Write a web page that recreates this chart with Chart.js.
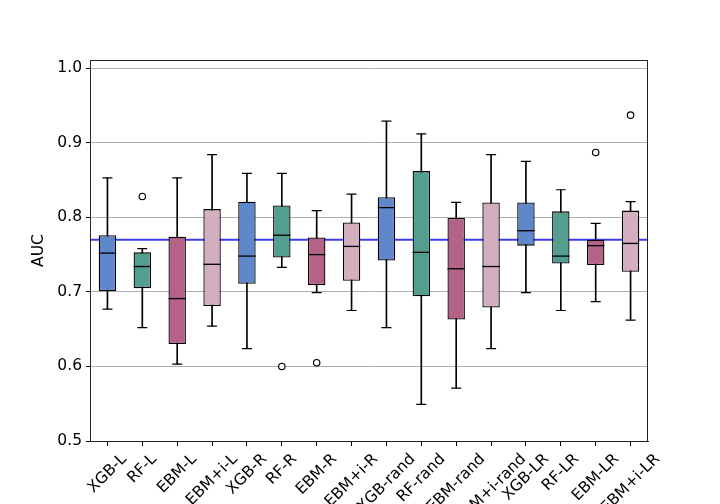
<!DOCTYPE html>
<html>
<head>
<meta charset="utf-8">
<script src="https://cdn.jsdelivr.net/npm/chart.js@4.4.1/dist/chart.umd.min.js"></script>
<style>
  html, body { margin: 0; padding: 0; background: #fff; }
  #wrap { width: 720px; height: 504px; }
</style>
</head>
<body>
<div id="wrap"><canvas id="aucChart" width="720" height="504"></canvas></div>
<script>
// model names on the x axis
const models = ['XGB-L', 'RF-L', 'EBM-L', 'EBM+i-L', 'XGB-R', 'RF-R', 'EBM-R', 'EBM+i-R',
    'XGB-rand', 'RF-rand', 'EBM-rand', 'EBM+i-rand', 'XGB-LR', 'RF-LR', 'EBM-LR', 'EBM+i-LR'];

// box plot stats
const whiskerLow  = [0.677, 0.652, 0.603, 0.654, 0.624, 0.733, 0.699, 0.675, 0.652, 0.549, 0.571, 0.624, 0.699, 0.675, 0.687, 0.662];
const q1          = [0.701, 0.705, 0.630, 0.681, 0.711, 0.746, 0.709, 0.715, 0.742, 0.694, 0.663, 0.679, 0.762, 0.738, 0.736, 0.727];
const medians     = [0.752, 0.734, 0.691, 0.737, 0.748, 0.776, 0.750, 0.761, 0.813, 0.753, 0.731, 0.734, 0.782, 0.748, 0.762, 0.765];
const q3          = [0.776, 0.753, 0.774, 0.811, 0.821, 0.816, 0.773, 0.793, 0.827, 0.862, 0.799, 0.820, 0.820, 0.808, 0.770, 0.809];
const whiskerHigh = [0.853, 0.758, 0.853, 0.884, 0.859, 0.859, 0.809, 0.831, 0.929, 0.912, 0.820, 0.884, 0.875, 0.837, 0.792, 0.821];
const outliers    = [null, 0.828, null, null, null, 0.600, 0.605, null, null, null, null, null, null, null, 0.887, 0.937];

const yTicks = [0.5, 0.6, 0.7, 0.8, 0.9, 1.0];
const baseline = 0.770;

const palette = ['#5f87cc', '#549e90', '#b56289', '#d3aebf'];
const boxColors = models.map((m, i) => palette[i % 4]);

const fontSize = 15.5;
Chart.defaults.font.family = '"DejaVu Sans", sans-serif';
Chart.defaults.font.size = fontSize;
Chart.defaults.color = '#000';

// blue reference line behind the boxes
const refLine = {
    id: 'refLine',
    beforeDatasetsDraw(chart) {
        const { ctx, chartArea, scales } = chart;
        const y = scales.y.getPixelForValue(baseline);
        ctx.save();
        ctx.strokeStyle = '#3c3cf0';
        ctx.lineWidth = 2;
        ctx.beginPath();
        ctx.moveTo(chartArea.left, y);
        ctx.lineTo(chartArea.right, y);
        ctx.stroke();
        ctx.restore();
    }
};

// frame + rotated, centred x labels (matplotlib style)
const frameAndLabels = {
    id: 'frameAndLabels',
    afterDraw(chart) {
        const { ctx, chartArea, scales } = chart;
        ctx.save();
        ctx.strokeStyle = '#222';
        ctx.lineWidth = 1;
        ctx.strokeRect(chartArea.left + 0.5, chartArea.top + 0.5,
            chartArea.right - chartArea.left - 1, chartArea.bottom - chartArea.top);

        ctx.font = fontSize + 'px "DejaVu Sans"';
        ctx.fillStyle = '#000';
        ctx.textAlign = 'center';
        ctx.textBaseline = 'middle';
        const top = chartArea.bottom + 10;
        const h = fontSize * 1.05;
        models.forEach((label, i) => {
            const x = scales.x.getPixelForTick(i);
            const w = ctx.measureText(label).width;
            const cy = top + (w + h) * Math.SQRT1_2 / 2;
            ctx.save();
            ctx.translate(x, cy);
            ctx.rotate(-Math.PI / 4);
            ctx.fillText(label, 0, 0);
            ctx.restore();
        });
        ctx.restore();
    }
};

new Chart(document.getElementById('aucChart').getContext('2d'), {
    type: 'bar',
    data: {
        labels: models,
        datasets: [
            {
                label: 'whiskers',
                data: models.map((m, i) => [whiskerLow[i], whiskerHigh[i]]),
                backgroundColor: '#000',
                barThickness: 1,
                grouped: false,
                order: 3
            },
            {
                label: 'boxes',
                data: models.map((m, i) => [q1[i], q3[i]]),
                backgroundColor: boxColors,
                borderColor: '#000',
                borderWidth: 1.3,
                borderSkipped: false,
                barPercentage: 0.5,
                categoryPercentage: 1.0,
                grouped: false,
                order: 2
            },
            {
                type: 'line',
                label: 'medians',
                data: medians,
                showLine: false,
                pointStyle: 'line',
                pointRadius: 8.7,
                pointBorderWidth: 1.3,
                pointBorderColor: '#000',
                order: 1
            },
            {
                type: 'line',
                label: 'capHigh',
                data: whiskerHigh,
                showLine: false,
                pointStyle: 'line',
                pointRadius: 5,
                pointBorderWidth: 1.2,
                pointBorderColor: '#000',
                order: 1
            },
            {
                type: 'line',
                label: 'capLow',
                data: whiskerLow,
                showLine: false,
                pointStyle: 'line',
                pointRadius: 5,
                pointBorderWidth: 1.2,
                pointBorderColor: '#000',
                order: 1
            },
            {
                type: 'line',
                label: 'outliers',
                data: outliers,
                showLine: false,
                pointStyle: 'circle',
                pointRadius: 3.2,
                pointBorderWidth: 1.2,
                pointBorderColor: '#000',
                pointBackgroundColor: '#fff',
                order: 0
            }
        ]
    },
    options: {
        responsive: false,
        animation: false,
        events: [],
        layout: { padding: { top: 60, right: 72, left: 0, bottom: 0 } },
        plugins: {
            legend: { display: false },
            tooltip: { enabled: false }
        },
        scales: {
            x: {
                type: 'category',
                offset: true,
                grid: { offset: false, drawOnChartArea: false, drawTicks: true, tickLength: 5, tickColor: '#000' },
                border: { display: true, color: '#222' },
                ticks: { display: false },
                afterFit(scale) { scale.height = 63; }
            },
            y: {
                min: 0.5,
                max: 1.011,
                afterBuildTicks(scale) { scale.ticks = yTicks.map(v => ({ value: v })); },
                ticks: {
                    padding: 4,
                    callback: v => v.toFixed(1)
                },
                grid: { color: '#b0b0b0', lineWidth: 1, tickLength: 4, tickColor: '#000' },
                border: { display: true, color: '#222' },
                title: { display: true, text: 'AUC', padding: { top: 30, bottom: 4 } },
                afterFit(scale) { scale.width = 90; }
            }
        }
    },
    plugins: [refLine, frameAndLabels]
});
</script>
</body>
</html>
